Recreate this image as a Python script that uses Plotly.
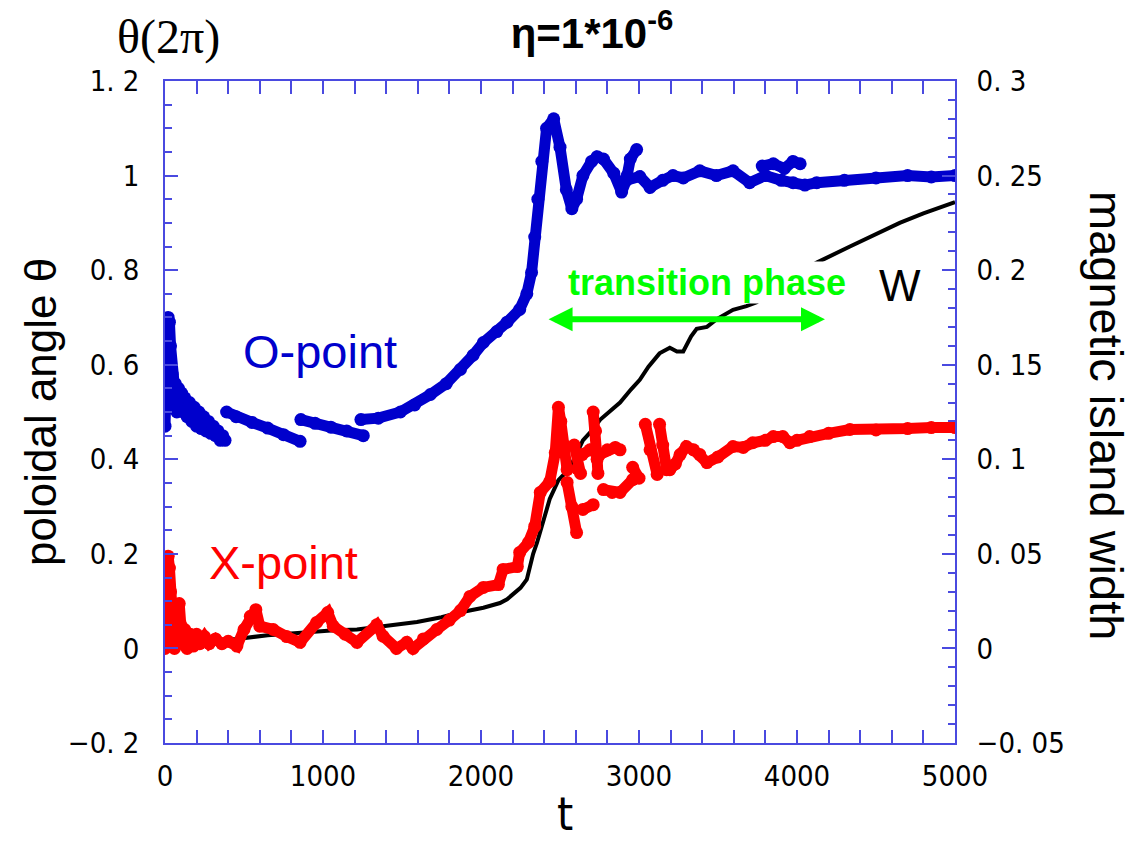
import plotly.graph_objects as go

# ---------------- data ----------------
# O-point poloidal angle (units of 2*pi); None separates drawn pieces
o_t = [0, 5, 8, 12, 20, 28, 35, 45, 55, 65, 75, 85, 95, 105, 115, 125, 140, 155, 170, 185, 200, 215, 230, 245, 260, 275,
       290, 305, 320, 335, 350, 365, 380, None,
       390, 450, 550, 650, 750, 855, None,
       860, 950, 1050, 1150, 1255, None,
       1240, 1350, 1490, 1580, 1680, 1780, 1870, 1950, 2015, 2100, 2165, 2245, 2290, 2320, 2340, 2360, 2385, 2415, 2460,
       2500, 2540, 2575, 2605, 2645, 2700, 2735, 2775, 2840, 2890, 2920, 3005, 3070, 3150, 3215, 3280, 3385, 3490, 3595,
       3700, 3800, 3900, 3975, 4050, 4125, 4300, 4500, 4700, 4850, 5000, None,
       2925, 2945, 2985, None,
       3780, 3850, 3920, 3975, 4020]
o_theta = [0.47, 0.505, 0.585, 0.65, 0.70, 0.69, 0.64, 0.58, 0.53, 0.56, 0.50, 0.55, 0.51, 0.54, 0.50, 0.53, 0.49, 0.52,
           0.48, 0.51, 0.47, 0.50, 0.465, 0.49, 0.46, 0.48, 0.455, 0.47, 0.45, 0.46, 0.44, 0.45, 0.44, None,
           0.50, 0.49, 0.478, 0.466, 0.452, 0.438, None,
           0.484, 0.476, 0.468, 0.46, 0.45, None,
           0.484, 0.487, 0.50, 0.515, 0.537, 0.56, 0.59, 0.62, 0.647, 0.67, 0.69, 0.717, 0.75, 0.795, 0.87, 0.95, 1.03, 1.10, 1.12,
           1.06, 0.97, 0.93, 0.95, 1.0, 1.03, 1.04, 1.035, 1.005, 0.965, 0.99, 0.998, 0.975, 0.99, 1.0, 0.995, 1.01, 1.0, 1.01,
           0.985, 1.0, 0.99, 0.985, 0.98, 0.985, 0.99, 0.995, 1.0, 0.997, 1.0, None,
           1.0, 1.035, 1.055, None,
           1.02, 1.025, 1.015, 1.03, 1.025]

# X-point poloidal angle (units of 2*pi)
x_t = [0, 3, 5, 8, 12, 20, 28, 35, 45, 55, 60, 75, 90, 100, 110, 125, 140, 160, 180, 200, 220, 250, 280, 320, 360, 400, 455,
       500, 540, 575, 600, 685, 770, 855, 960, 1030, 1065, 1140, 1215, 1340, 1380, 1465, 1530, 1570, 1635, 1720, 1800, 1870,
       1930, 2015, 2110, 2140, 2230, 2245, 2300, 2340, 2375, 2435, 2470, 2490, 2505, 2525, 2545, None,
       2545, 2575, 2605, None,
       2590, 2610, 2630, None,
       2710, 2725, 2735, 2740, None,
       2640, 2690, 2750, 2800, 2850, 2880, None,
       2645, 2710, None,
       2775, 2830, 2880, 2960, None,
       2960, 3000, None,
       3040, 3070, 3115, None,
       3130, 3150, 3175, 3195, 3230, 3260, 3300, 3345, 3385, 3430, 3500, 3595, 3660, 3720, 3800, 3850, 3910, 3955, 4000,
       4080, 4200, 4335, 4500, 4700, 4850, 5000]
x_theta = [0.0, 0.03, 0.07, 0.13, 0.19, 0.195, 0.17, 0.12, 0.07, 0.03, 0.0, 0.06, 0.095, 0.05, 0.01, 0.04, 0.0, 0.03, 0.005, 0.03, 0.01, 0.025, 0.01, 0.02, 0.01, 0.015, 0.005,
           0.04, 0.068, 0.082, 0.047, 0.04, 0.025, 0.013, 0.055, 0.076, 0.047, 0.03, 0.013, 0.05, 0.026, 0.0, 0.013, 0.0, 0.02, 0.04, 0.06, 0.08,
           0.11, 0.129, 0.135, 0.167, 0.173, 0.203, 0.224, 0.258, 0.33, 0.353, 0.414, 0.51, 0.48, 0.43, 0.378, None,
           0.351, 0.30, 0.245, None,
           0.43, 0.38, 0.37, None,
           0.50, 0.46, 0.40, 0.37, None,
           0.41, 0.42, 0.41, 0.42, 0.425, 0.42, None,
           0.294, 0.304, None,
           0.336, 0.33, 0.33, 0.357, None,
           0.383, 0.36, None,
           0.474, 0.42, 0.368, None,
           0.474, 0.43, 0.378, 0.378, 0.39, 0.41, 0.427, 0.42, 0.41, 0.393, 0.405, 0.427, 0.425, 0.435, 0.44, 0.448, 0.448, 0.435, 0.44,
           0.448, 0.455, 0.463, 0.462, 0.465, 0.467, 0.467]

# magnetic island width W (right axis)
w_t = [0, 100, 250, 455, 650, 855, 1050, 1215, 1400, 1595, 1750, 1865, 2015, 2120, 2165, 2250, 2290, 2330, 2355, 2400, 2435,
       2490, 2560, 2645, 2700, 2755, 2820, 2880, 2950, 3005, 3060, 3130, 3195, 3240, 3280, 3330, 3365, 3430, 3490, 3595,
       3680, 3745, 3850, 3950, 4050, 4125, 4335, 4500, 4650, 4800, 5000]
w_val = [0.003, 0.0035, 0.004, 0.005, 0.007, 0.0085, 0.0095, 0.010, 0.012, 0.014, 0.0165, 0.019, 0.0215, 0.024, 0.026, 0.032, 0.0365, 0.050, 0.056, 0.07, 0.079,
         0.089, 0.095, 0.11, 0.115, 0.121, 0.126, 0.13, 0.137, 0.142, 0.149, 0.156, 0.159, 0.157, 0.157, 0.165, 0.169, 0.17, 0.174, 0.179,
         0.181, 0.183, 0.19, 0.195, 0.200, 0.204, 0.2125, 0.219, 0.225, 0.23, 0.236]

# tick labels
x_tickvals = [0, 1000, 2000, 3000, 4000, 5000]
x_ticktext = ["0", "1000", "2000", "3000", "4000", "5000"]
yl_tickvals = [-0.2, 0, 0.2, 0.4, 0.6, 0.8, 1.0, 1.2]
yl_ticktext = ["\u22120. 2", "0", "0. 2", "0. 4", "0. 6", "0. 8", "1", "1. 2"]
yr_tickvals = [-0.05, 0, 0.05, 0.1, 0.15, 0.2, 0.25, 0.3]
yr_ticktext = ["\u22120. 05", "0", "0. 05", "0. 1", "0. 15", "0. 2", "0. 25", "0. 3"]

# transition phase arrow extent (t) and height (theta)
arrow_t = [2418, 4177]
arrow_theta = 0.696

# ---------------- styling ----------------
BLUE = "#0000cc"
RED = "#ff0000"
GREEN = "#00ff00"
AXC = "#4a4ae0"
TICKFONT = dict(family="Liberation Sans Narrow, DejaVu Sans Condensed, Liberation Sans, Arial", size=29, color="black")
ARIAL = "Liberation Sans, Arial, sans-serif"

fig = go.Figure()

fig.add_trace(go.Scatter(x=w_t, y=w_val, mode="lines", line=dict(color="black", width=4),
                         yaxis="y", showlegend=False, connectgaps=False))
fig.add_trace(go.Scatter(x=o_t, y=o_theta, mode="lines+markers",
                         line=dict(color=BLUE, width=11), marker=dict(color=BLUE, size=13),
                         yaxis="y2", showlegend=False, connectgaps=False))
fig.add_trace(go.Scatter(x=x_t, y=x_theta, mode="lines+markers",
                         line=dict(color=RED, width=11), marker=dict(color=RED, size=13),
                         yaxis="y2", showlegend=False, connectgaps=False))

common_axis = dict(showline=True, linecolor=AXC, linewidth=1.5, ticks="inside", tickcolor=AXC,
                   tickwidth=1.5, ticklen=13, showgrid=False, zeroline=False, tickfont=TICKFONT)

fig.update_layout(
    width=1140, height=843,
    margin=dict(l=165, r=185, t=81, b=100),
    paper_bgcolor="white", plot_bgcolor="white",
    xaxis=dict(range=[0, 5000], tickmode="array", tickvals=x_tickvals, ticktext=x_ticktext,
               mirror="allticks", ticklabelstandoff=6,
               minor=dict(ticks="inside", ticklen=7, tickwidth=1.5, tickcolor=AXC, tick0=0, dtick=200, showgrid=False),
               **common_axis),
    yaxis=dict(range=[-0.05, 0.3], side="right", tickmode="array", tickvals=yr_tickvals, ticktext=yr_ticktext,
               ticklabelstandoff=14,
               minor=dict(ticks="inside", ticklen=7, tickwidth=1.5, tickcolor=AXC, tick0=0, dtick=0.01, showgrid=False),
               **common_axis),
    yaxis2=dict(range=[-0.2, 1.2], side="left", overlaying="y", anchor="x", tickmode="array",
                tickvals=yl_tickvals, ticktext=yl_ticktext, ticklabelstandoff=18,
                minor=dict(ticks="inside", ticklen=7, tickwidth=1.5, tickcolor=AXC, tick0=0, dtick=0.05, showgrid=False),
                **common_axis),
    title=dict(text="<b>\u03b7=1*10<sup>-6</sup></b>", x=592 / 1140, xanchor="center", y=1 - 33 / 843,
               yanchor="middle", font=dict(family=ARIAL, size=42, color="black")),
)

annotations = [
    # axis titles
    dict(text="\u03b8(2\u03c0)", xref="paper", yref="paper", x=(168 - 165) / 790, y=(743 - 37) / 662,
         xanchor="center", yanchor="middle", showarrow=False,
         font=dict(family="Liberation Serif, Times New Roman, serif", size=48, color="black")),
    dict(text="poloidal angle \u03b8", xref="paper", yref="paper", x=(40 - 165) / 790, y=(743 - 412) / 662,
         xanchor="center", yanchor="middle", textangle=-90, showarrow=False,
         font=dict(family=ARIAL, size=44, color="black")),
    dict(text="magnetic island width", xref="paper", yref="paper", x=(1107 - 165) / 790, y=(743 - 415) / 662,
         xanchor="center", yanchor="middle", textangle=90, showarrow=False,
         font=dict(family=ARIAL, size=47, color="black")),
    dict(text="t", xref="paper", yref="paper", x=(565 - 165) / 790, y=(743 - 814) / 662,
         xanchor="center", yanchor="middle", showarrow=False,
         font=dict(family="Liberation Sans Narrow, DejaVu Sans Condensed, Liberation Sans, Arial", size=46, color="black")),
    # series labels
    dict(text="O-point", xref="x", yref="y2", x=980, y=0.628, showarrow=False,
         font=dict(family=ARIAL, size=47, color=BLUE)),
    dict(text="X-point", xref="x", yref="y2", x=747, y=0.182, showarrow=False,
         font=dict(family=ARIAL, size=47, color=RED)),
    dict(text="W", xref="x", yref="y2", x=4655, y=0.767, showarrow=False,
         font=dict(family=ARIAL, size=44, color="black")),
    dict(text="<b>transition phase</b>", xref="x", yref="y2", x=3430, y=0.774, showarrow=False,
         bgcolor="white", borderpad=0, font=dict(family=ARIAL, size=36, color=GREEN)),
    # double-headed arrow
    dict(text="", xref="x", yref="y2", x=arrow_t[1], y=arrow_theta, axref="x", ayref="y2",
         ax=arrow_t[0], ay=arrow_theta, showarrow=True, arrowside="end+start", arrowhead=2,
         arrowsize=0.8, arrowwidth=6, arrowcolor=GREEN, standoff=0, startstandoff=0),
]
fig.update_layout(annotations=annotations)

fig.write_html("out.html")
